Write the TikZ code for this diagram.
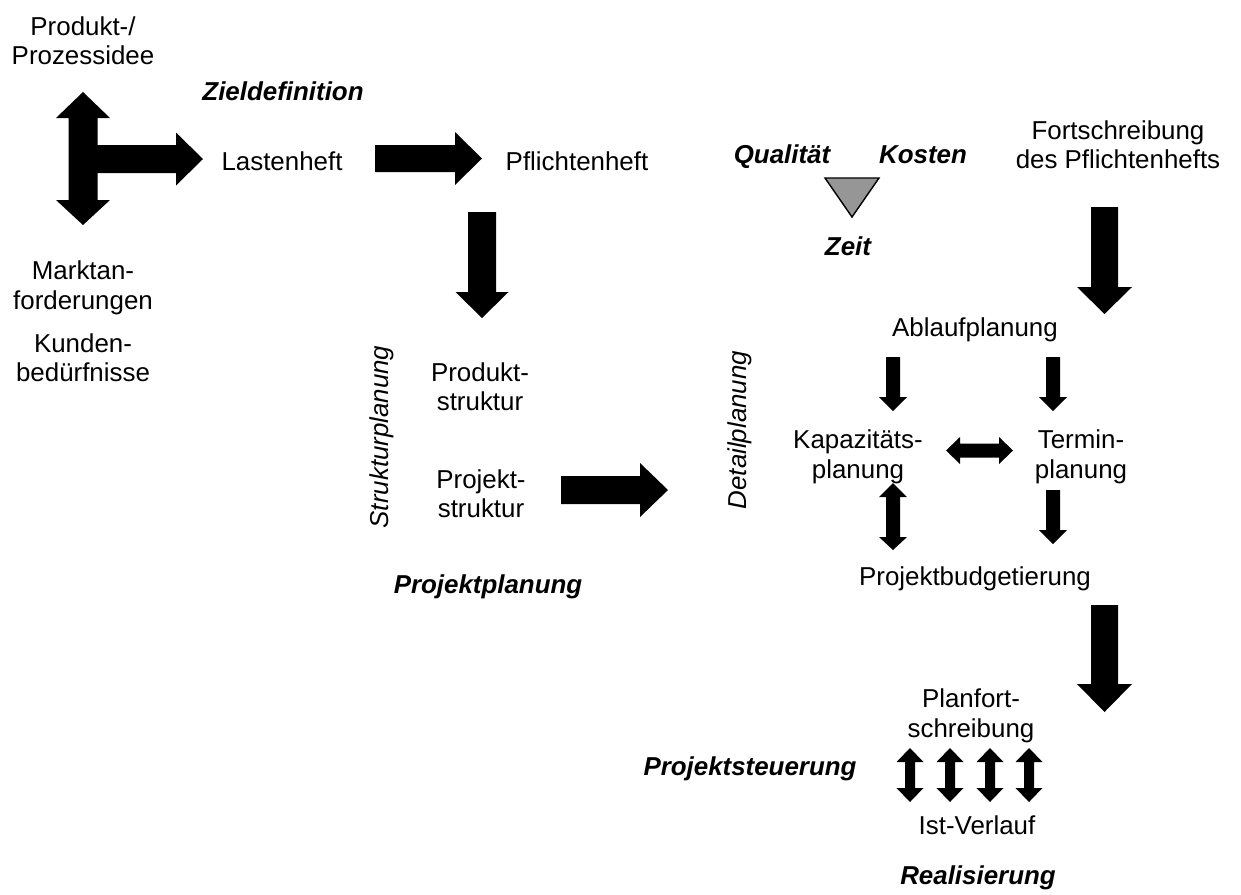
\documentclass[tikz,border=0pt]{standalone}
\usepackage{fontspec}
\setmainfont{Liberation Sans}[Ligatures={TeX,NoCommon}]

% Block arrows, coordinates in pixel units (y grows downwards)
% vertical arrow: cx, tail y, head base y, tip y, shaft half width, head half width
\newcommand{\vArrow}[6]{%
  \fill[blk] ({#1-#5},#2) -- ({#1+#5},#2) -- ({#1+#5},#3) -- ({#1+#6},#3) -- (#1,#4)
    -- ({#1-#6},#3) -- ({#1-#5},#3) -- cycle;}
% horizontal arrow: cy, tail x, head base x, tip x, shaft half width, head half width
\newcommand{\hArrow}[6]{%
  \fill[blk] (#2,{#1-#5}) -- (#3,{#1-#5}) -- (#3,{#1-#6}) -- (#4,#1) -- (#3,{#1+#6})
    -- (#3,{#1+#5}) -- (#2,{#1+#5}) -- cycle;}
% vertical double arrow: cx, top tip, top head base, bottom head base, bottom tip, shaft half, head half
\newcommand{\vDbl}[7]{%
  \fill[blk] (#1,#2) -- ({#1+#7},#3) -- ({#1+#6},#3) -- ({#1+#6},#4) -- ({#1+#7},#4) -- (#1,#5)
    -- ({#1-#7},#4) -- ({#1-#6},#4) -- ({#1-#6},#3) -- ({#1-#7},#3) -- cycle;}
% horizontal double arrow: cy, left tip, left head base, right head base, right tip, shaft half, head half
\newcommand{\hDbl}[7]{%
  \fill[blk] (#2,#1) -- (#3,{#1-#7}) -- (#3,{#1-#6}) -- (#4,{#1-#6}) -- (#4,{#1-#7}) -- (#5,#1)
    -- (#4,{#1+#7}) -- (#4,{#1+#6}) -- (#3,{#1+#6}) -- (#3,{#1+#7}) -- cycle;}

\definecolor{trigray}{RGB}{150,150,150}

\begin{document}
\begin{tikzpicture}[x=0.02cm,y=-0.02cm,
  txt/.style={font=\fontsize{14.74pt}{17pt}\selectfont, inner sep=0pt, align=center},
  lbl/.style={txt, font=\fontsize{14.74pt}{17pt}\selectfont\bfseries\itshape},
  vlbl/.style={txt, font=\fontsize{14.74pt}{17pt}\selectfont\itshape, rotate=90},
  blk/.style={fill=black},
  tri/.style={fill=trigray, draw=black, line width=0.8pt, line join=miter}]

\path[use as bounding box] (0,0) rectangle (1241,894);

% ---- left column: goal definition ----
\node[txt] (idee) at (83,40.7) {Produkt-/\\Prozessidee};
\node[txt] (markt) at (83,288) {Marktan-\\forderungen};
\node[txt] (kunden) at (83,357.7) {Kunden-\\bedürfnisse};
\node[lbl, anchor=base] (ziel) at (283,100) {Zieldefinition};
\node[txt, anchor=base] (lasten) at (282,170) {Lastenheft};
\node[txt, anchor=base] (pflicht) at (577,170) {Pflichtenheft};

\vDbl{83}{92}{118}{200}{225}{14.5}{27}
\hArrow{159}{83}{176}{203}{14}{26.5}
\hArrow{158.5}{375}{455}{482}{13.5}{26.5}
\vArrow{482}{212}{292}{318}{14}{26.5}

% ---- project planning ----
\node[vlbl] (struktur) at (382,437) {Strukturplanung};
\node[txt] (produktstr) at (480,386.7) {Produkt-\\struktur};
\node[txt] (projektstr) at (481,493.7) {Projekt-\\struktur};
\node[lbl, anchor=base] (planung) at (488,593) {Projektplanung};
\hArrow{490}{561}{640}{668}{14}{27}
\node[vlbl] (detail) at (740,430) {Detailplanung};

% ---- magic triangle ----
\node[lbl, anchor=base] (qual) at (782,163) {Qualität};
\node[lbl, anchor=base] (kosten) at (923,163) {Kosten};
\node[lbl, anchor=base] (zeit) at (848,255) {Zeit};
\draw[tri] (825,178) -- (879,178) -- (852,217) -- cycle;

% ---- detailed planning ----
\node[txt] (fort) at (1118,144.7) {Fortschreibung\\des Pflichtenhefts};
\vArrow{1104.5}{207}{287}{314}{13.5}{27.5}
\node[txt, anchor=base] (ablauf) at (975,336) {Ablaufplanung};
\node[txt] (kap) at (858,456.5) {Kapazitäts-\\planung};
\node[txt] (termin) at (1081,456.5) {Termin-\\planung};
\node[txt, anchor=base] (budget) at (975,585) {Projektbudgetierung};

\vArrow{893}{357}{397}{411}{7}{14}
\vArrow{1053}{357}{397}{411}{7}{14}
\hDbl{450.5}{946}{960}{999}{1013}{7}{13.5}
\vDbl{893}{483}{497}{537}{550}{7}{14}
\vArrow{1053}{490}{530}{544}{7}{14}

% ---- realisation ----
\vArrow{1104.5}{605}{684}{712}{13.5}{27.5}
\node[txt] (planfort) at (971,715.5) {Planfort-\\schreibung};
\node[lbl, anchor=base] (steuer) at (750,775) {Projektsteuerung};
\foreach \cx in {910,950,990,1029}{\vDbl{\cx}{748}{762}{788}{802}{5}{13.5}}
\node[txt, anchor=base] (ist) at (977,834) {Ist-Verlauf};
\node[lbl, anchor=base] (real) at (978,884) {Realisierung};

\end{tikzpicture}
\end{document}
